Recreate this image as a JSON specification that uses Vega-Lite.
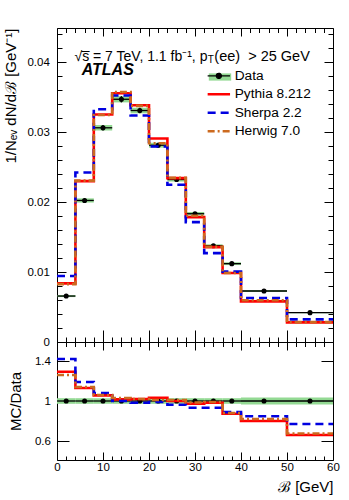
{
  "$schema": "https://vega.github.io/schema/vega-lite/v6.json",
  "padding": {"left": 2, "top": 27, "right": 15, "bottom": 5},
  "spacing": 0,
  "bounds": "flush",
  "config": {
    "view": {"stroke": "black", "strokeWidth": 1},
    "font": "Liberation Sans",
    "axis": {"domain": false, "grid": false, "labelFont": "Liberation Sans", "labelFontSize": 11.5, "labelColor": "black", "tickColor": "black", "tickWidth": 1, "titleFont": "Liberation Sans", "titleFontWeight": "normal", "titleFontSize": 15, "titleColor": "black", "labelOverlap": false, "labelFlush": false, "labelBound": false}
  },
  "datasets": {
    "bins": [
      {"lo": 0, "hi": 4, "c": 2, "v": 0.00657, "elo": 0.00642, "ehi": 0.00672, "r": 1, "rlo": 0.972, "rhi": 1.028},
      {"lo": 4, "hi": 8, "c": 6, "v": 0.02024, "elo": 0.01994, "ehi": 0.02054, "r": 1, "rlo": 0.972, "rhi": 1.028},
      {"lo": 8, "hi": 12, "c": 10, "v": 0.03063, "elo": 0.03023, "ehi": 0.03103, "r": 1, "rlo": 0.972, "rhi": 1.028},
      {"lo": 12, "hi": 16, "c": 14, "v": 0.03471, "elo": 0.03426, "ehi": 0.03516, "r": 1, "rlo": 0.972, "rhi": 1.028},
      {"lo": 16, "hi": 20, "c": 18, "v": 0.0331, "elo": 0.0327, "ehi": 0.0335, "r": 1, "rlo": 0.972, "rhi": 1.028},
      {"lo": 20, "hi": 24, "c": 22, "v": 0.02814, "elo": 0.02779, "ehi": 0.02849, "r": 1, "rlo": 0.972, "rhi": 1.028},
      {"lo": 24, "hi": 28, "c": 26, "v": 0.02324, "elo": 0.02294, "ehi": 0.02354, "r": 1, "rlo": 0.972, "rhi": 1.028},
      {"lo": 28, "hi": 32, "c": 30, "v": 0.01834, "elo": 0.01809, "ehi": 0.01859, "r": 1, "rlo": 0.972, "rhi": 1.028},
      {"lo": 32, "hi": 36, "c": 34, "v": 0.01377, "elo": 0.01357, "ehi": 0.01397, "r": 1, "rlo": 0.972, "rhi": 1.028},
      {"lo": 36, "hi": 40, "c": 38, "v": 0.0112, "elo": 0.011, "ehi": 0.0114, "r": 1, "rlo": 0.972, "rhi": 1.028},
      {"lo": 40, "hi": 50, "c": 45, "v": 0.00729, "elo": 0.00714, "ehi": 0.00744, "r": 1, "rlo": 0.964, "rhi": 1.036},
      {"lo": 50, "hi": 60, "c": 55, "v": 0.0042, "elo": 0.0041, "ehi": 0.0043, "r": 1, "rlo": 0.966, "rhi": 1.034}
    ],
    "mc": [
      {"s": "Pythia 8.212", "x": 0, "y": 0.00839, "r": 1.293},
      {"s": "Pythia 8.212", "x": 4, "y": 0.0230, "r": 1.13},
      {"s": "Pythia 8.212", "x": 8, "y": 0.03253, "r": 1.056},
      {"s": "Pythia 8.212", "x": 12, "y": 0.03557, "r": 1.016},
      {"s": "Pythia 8.212", "x": 16, "y": 0.03386, "r": 1.02},
      {"s": "Pythia 8.212", "x": 20, "y": 0.0291, "r": 1.033},
      {"s": "Pythia 8.212", "x": 24, "y": 0.02343, "r": 1.0},
      {"s": "Pythia 8.212", "x": 28, "y": 0.01786, "r": 0.972},
      {"s": "Pythia 8.212", "x": 32, "y": 0.01357, "r": 0.983},
      {"s": "Pythia 8.212", "x": 36, "y": 0.00986, "r": 0.872},
      {"s": "Pythia 8.212", "x": 40, "y": 0.00581, "r": 0.80},
      {"s": "Pythia 8.212", "x": 50, "y": 0.00281, "r": 0.66},
      {"s": "Pythia 8.212", "x": 60, "y": 0.00281, "r": 0.66},
      {"s": "Sherpa 2.2", "x": 0, "y": 0.00943, "r": 1.42},
      {"s": "Sherpa 2.2", "x": 4, "y": 0.02424, "r": 1.19},
      {"s": "Sherpa 2.2", "x": 8, "y": 0.03329, "r": 1.08},
      {"s": "Sherpa 2.2", "x": 12, "y": 0.03524, "r": 1.0},
      {"s": "Sherpa 2.2", "x": 16, "y": 0.03239, "r": 0.982},
      {"s": "Sherpa 2.2", "x": 20, "y": 0.02796, "r": 0.99},
      {"s": "Sherpa 2.2", "x": 24, "y": 0.02249, "r": 0.962},
      {"s": "Sherpa 2.2", "x": 28, "y": 0.01714, "r": 0.932},
      {"s": "Sherpa 2.2", "x": 32, "y": 0.01271, "r": 0.932},
      {"s": "Sherpa 2.2", "x": 36, "y": 0.01006, "r": 0.889},
      {"s": "Sherpa 2.2", "x": 40, "y": 0.00629, "r": 0.848},
      {"s": "Sherpa 2.2", "x": 50, "y": 0.00324, "r": 0.77},
      {"s": "Sherpa 2.2", "x": 60, "y": 0.00324, "r": 0.77},
      {"s": "Herwig 7.0", "x": 0, "y": 0.00828, "r": 1.26},
      {"s": "Herwig 7.0", "x": 4, "y": 0.02307, "r": 1.14},
      {"s": "Herwig 7.0", "x": 8, "y": 0.03247, "r": 1.06},
      {"s": "Herwig 7.0", "x": 12, "y": 0.03575, "r": 1.03},
      {"s": "Herwig 7.0", "x": 16, "y": 0.03376, "r": 1.02},
      {"s": "Herwig 7.0", "x": 20, "y": 0.02842, "r": 1.01},
      {"s": "Herwig 7.0", "x": 24, "y": 0.02347, "r": 1.01},
      {"s": "Herwig 7.0", "x": 28, "y": 0.01806, "r": 0.985},
      {"s": "Herwig 7.0", "x": 32, "y": 0.01363, "r": 0.99},
      {"s": "Herwig 7.0", "x": 36, "y": 0.00986, "r": 0.88},
      {"s": "Herwig 7.0", "x": 40, "y": 0.00598, "r": 0.82},
      {"s": "Herwig 7.0", "x": 50, "y": 0.00284, "r": 0.675},
      {"s": "Herwig 7.0", "x": 60, "y": 0.00284, "r": 0.675}
    ]
  },
  "resolve": {"scale": {"stroke": "independent", "strokeDash": "independent", "fill": "independent"}},
  "vconcat": [
    {
      "width": 276,
      "height": 314,
      "resolve": {"axis": {"x": "independent", "y": "independent"}},
      "layer": [
        {
          "data": {"name": "bins"},
          "mark": {"type": "rect"},
          "encoding": {
            "x": {"field": "lo", "type": "quantitative", "scale": {"domain": [0, 60], "nice": false, "zero": false},
              "axis": {"orient": "bottom", "values": [0,2,4,6,8,10,12,14,16,18,20,22,24,26,28,30,32,34,36,38,40,42,44,46,48,50,52,54,56,58,60], "labels": false, "title": null,
                "tickSize": {"condition": {"test": "datum.value % 10 === 0", "value": -12}, "value": -5}}},
            "x2": {"field": "hi"},
            "y": {"field": "elo", "type": "quantitative", "scale": {"domain": [0, 0.0449], "nice": false, "zero": false},
              "axis": {"orient": "left", "values": [0,0.002,0.004,0.006,0.008,0.01,0.012,0.014,0.016,0.018,0.02,0.022,0.024,0.026,0.028,0.03,0.032,0.034,0.036,0.038,0.04,0.042,0.044],
                "labelExpr": "abs(datum.value*100 - round(datum.value*100)) < 0.001 ? (datum.value == 0 ? '0' : format(datum.value, '.2f')) : ''",
                "tickSize": {"condition": {"test": "abs(datum.value*100 - round(datum.value*100)) < 0.001", "value": -9}, "value": -5},
                "labelPadding": 16.7,
                "title": "1/Nₑᵥ dN/dℬ [GeV⁻¹]", "titleAnchor": "end", "titleX": -39}},
            "y2": {"field": "ehi"},
            "fill": {"datum": "Data", "type": "nominal", "scale": {"domain": ["Data"], "range": ["#93d993"]},
              "legend": {"orient": "none", "legendX": 155, "legendY": 41, "title": null, "padding": 0, "rowPadding": 3.5,
                "symbolType": "M-1.4,-0.45H1.4V0.45H-1.4Z", "symbolSize": 256, "symbolStrokeWidth": 0, "symbolOpacity": 1,
                "labelExpr": "''", "labelFontSize": 13.7, "labelOffset": 9}}
          }
        },
        {
          "data": {"name": "bins"},
          "mark": {"type": "rule", "color": "black", "strokeWidth": 1.3},
          "encoding": {
            "x": {"field": "lo", "type": "quantitative",
              "axis": {"orient": "top", "values": [0,2,4,6,8,10,12,14,16,18,20,22,24,26,28,30,32,34,36,38,40,42,44,46,48,50,52,54,56,58,60], "labels": false, "title": null,
                "tickSize": {"condition": {"test": "datum.value % 10 === 0", "value": -8}, "value": -4.5}}},
            "x2": {"field": "hi"},
            "y": {"field": "v", "type": "quantitative",
              "axis": {"orient": "right", "values": [0,0.002,0.004,0.006,0.008,0.01,0.012,0.014,0.016,0.018,0.02,0.022,0.024,0.026,0.028,0.03,0.032,0.034,0.036,0.038,0.04,0.042,0.044], "labels": false, "title": null,
                "tickSize": {"condition": {"test": "abs(datum.value*100 - round(datum.value*100)) < 0.001", "value": -9}, "value": -5}}}
          }
        },
        {
          "data": {"name": "bins"},
          "mark": {"type": "rule", "color": "black", "strokeWidth": 1.3},
          "encoding": {
            "x": {"field": "c", "type": "quantitative", "axis": null},
            "y": {"field": "elo", "type": "quantitative", "axis": null},
            "y2": {"field": "ehi"}
          }
        },
        {
          "data": {"name": "bins"},
          "mark": {"type": "circle", "color": "black", "opacity": 1, "size": 26},
          "encoding": {
            "x": {"field": "c", "type": "quantitative", "axis": null},
            "y": {"field": "v", "type": "quantitative", "axis": null}
          }
        },
        {
          "data": {"name": "mc"},
          "mark": {"type": "line", "interpolate": "step-after", "strokeWidth": 2.6},
          "encoding": {
            "x": {"field": "x", "type": "quantitative", "axis": null},
            "y": {"field": "y", "type": "quantitative", "axis": null},
            "stroke": {"field": "s", "type": "nominal", "sort": null,
              "scale": {"domain": ["Data", "Pythia 8.212", "Sherpa 2.2", "Herwig 7.0"], "range": ["black", "#ff0000", "#0000e0", "#cc6a1f"]},
              "legend": {"orient": "none", "legendX": 155, "legendY": 41, "title": null, "padding": 0, "rowPadding": 3.5,
                "symbolType": "M-1.4,0H1.4", "symbolSize": 256, "symbolStrokeWidth": 2.5,
                "labelFont": "Liberation Sans", "labelFontSize": 13.7, "labelColor": "black", "labelOffset": 9,
                "encode": {"symbols": {"update": {
                  "shape": {"signal": "datum.value === 'Data' ? 'M-1.4,0H1.4M-0.32,0A0.32,0.32 0 1,0 0.32,0A0.32,0.32 0 1,0 -0.32,0' : 'M-1.4,0H1.4'"},
                  "fill": {"signal": "datum.value === 'Data' ? 'black' : 'transparent'"},
                  "strokeWidth": {"signal": "datum.value === 'Data' ? 1.3 : 2.5"}}}}}},
            "strokeDash": {"field": "s", "type": "nominal", "sort": null,
              "scale": {"domain": ["Data", "Pythia 8.212", "Sherpa 2.2", "Herwig 7.0"], "range": [[1, 0], [1, 0], [8, 5], [7, 3, 2, 3]]},
              "legend": {"orient": "none", "legendX": 155, "legendY": 41, "title": null, "padding": 0, "rowPadding": 3.5,
                "symbolType": "M-1.4,0H1.4", "symbolSize": 256, "symbolStrokeWidth": 2.5,
                "labelFont": "Liberation Sans", "labelFontSize": 13.7, "labelColor": "black", "labelOffset": 9,
                "encode": {"symbols": {"update": {
                  "shape": {"signal": "datum.value === 'Data' ? 'M-1.4,0H1.4M-0.32,0A0.32,0.32 0 1,0 0.32,0A0.32,0.32 0 1,0 -0.32,0' : 'M-1.4,0H1.4'"},
                  "fill": {"signal": "datum.value === 'Data' ? 'black' : 'transparent'"},
                  "strokeWidth": {"signal": "datum.value === 'Data' ? 1.3 : 2.5"}}}}}}
          }
        },
        {
          "data": {"values": [{}]},
          "mark": {"type": "text", "text": "√s̅ = 7 TeV, 1.1 fb⁻¹, p", "align": "right", "baseline": "alphabetic", "fontSize": 14, "font": "Liberation Sans", "color": "black"},
          "encoding": {
            "x": {"datum": 32.7, "type": "quantitative", "axis": null},
            "y": {"datum": 0.04024, "type": "quantitative", "axis": null}
          }
        },
        {
          "data": {"values": [{}]},
          "mark": {"type": "text", "text": "T", "align": "left", "baseline": "alphabetic", "fontSize": 10, "font": "Liberation Sans", "color": "black"},
          "encoding": {
            "x": {"datum": 32.75, "type": "quantitative", "axis": null},
            "y": {"datum": 0.03994, "type": "quantitative", "axis": null}
          }
        },
        {
          "data": {"values": [{}]},
          "mark": {"type": "text", "text": "(ee)\u00a0\u00a0>\u00a025\u00a0GeV", "align": "left", "baseline": "alphabetic", "fontSize": 14.5, "font": "Liberation Sans", "color": "black"},
          "encoding": {
            "x": {"datum": 34.2, "type": "quantitative", "axis": null},
            "y": {"datum": 0.04024, "type": "quantitative", "axis": null}
          }
        },
        {
          "data": {"values": [{}]},
          "mark": {"type": "text", "text": "ATLAS", "align": "left", "baseline": "alphabetic", "fontSize": 16, "fontWeight": "bold", "fontStyle": "italic", "font": "Liberation Sans", "color": "black"},
          "encoding": {
            "x": {"datum": 5.37, "type": "quantitative", "axis": null},
            "y": {"datum": 0.03811, "type": "quantitative", "axis": null}
          }
        }
      ]
    },
    {
      "width": 276,
      "height": 118,
      "resolve": {"axis": {"x": "independent", "y": "independent"}},
      "layer": [
        {
          "data": {"name": "bins"},
          "mark": {"type": "rect", "color": "#93d993"},
          "encoding": {
            "x": {"field": "lo", "type": "quantitative", "scale": {"domain": [0, 60], "nice": false, "zero": false},
              "axis": {"orient": "bottom", "values": [0,2,4,6,8,10,12,14,16,18,20,22,24,26,28,30,32,34,36,38,40,42,44,46,48,50,52,54,56,58,60],
                "labelExpr": "datum.value % 10 === 0 ? datum.label : ''", "labelPadding": 9.5,
                "tickSize": {"condition": {"test": "datum.value % 10 === 0", "value": -8}, "value": -4},
                "title": "ℬ [GeV]", "titleAnchor": "end", "titleY": 19}},
            "x2": {"field": "hi"},
            "y": {"field": "rlo", "type": "quantitative", "scale": {"domain": [0.41, 1.59], "nice": false, "zero": false},
              "axis": {"orient": "left", "values": [0.6, 1, 1.4], "labelExpr": "datum.value == 1 ? '1' : format(datum.value, '.1f')",
                "tickSize": -12, "labelPadding": 18.6, "title": "MC/Data", "titleAnchor": "middle", "titleX": -34}},
            "y2": {"field": "rhi"}
          }
        },
        {
          "data": {"name": "bins"},
          "mark": {"type": "rule", "color": "black", "strokeWidth": 1.3},
          "encoding": {
            "x": {"field": "lo", "type": "quantitative",
              "axis": {"orient": "top", "values": [0,2,4,6,8,10,12,14,16,18,20,22,24,26,28,30,32,34,36,38,40,42,44,46,48,50,52,54,56,58,60], "labels": false, "title": null,
                "tickSize": {"condition": {"test": "datum.value % 10 === 0", "value": -8}, "value": -4.5}}},
            "x2": {"field": "hi"},
            "y": {"field": "r", "type": "quantitative",
              "axis": {"orient": "right", "values": [0.6, 1, 1.4], "labels": false, "title": null, "tickSize": -12}}
          }
        },
        {
          "data": {"name": "bins"},
          "mark": {"type": "circle", "color": "black", "opacity": 1, "size": 26},
          "encoding": {
            "x": {"field": "c", "type": "quantitative", "axis": null},
            "y": {"field": "r", "type": "quantitative", "axis": null}
          }
        },
        {
          "data": {"name": "mc"},
          "mark": {"type": "line", "interpolate": "step-after", "strokeWidth": 2.6},
          "encoding": {
            "x": {"field": "x", "type": "quantitative", "axis": null},
            "y": {"field": "r", "type": "quantitative", "axis": null},
            "stroke": {"field": "s", "type": "nominal", "sort": null,
              "scale": {"domain": ["Data", "Pythia 8.212", "Sherpa 2.2", "Herwig 7.0"], "range": ["black", "#ff0000", "#0000e0", "#cc6a1f"]}, "legend": null},
            "strokeDash": {"field": "s", "type": "nominal", "sort": null,
              "scale": {"domain": ["Data", "Pythia 8.212", "Sherpa 2.2", "Herwig 7.0"], "range": [[1, 0], [1, 0], [8, 5], [7, 3, 2, 3]]}, "legend": null}
          }
        }
      ]
    }
  ]
}
